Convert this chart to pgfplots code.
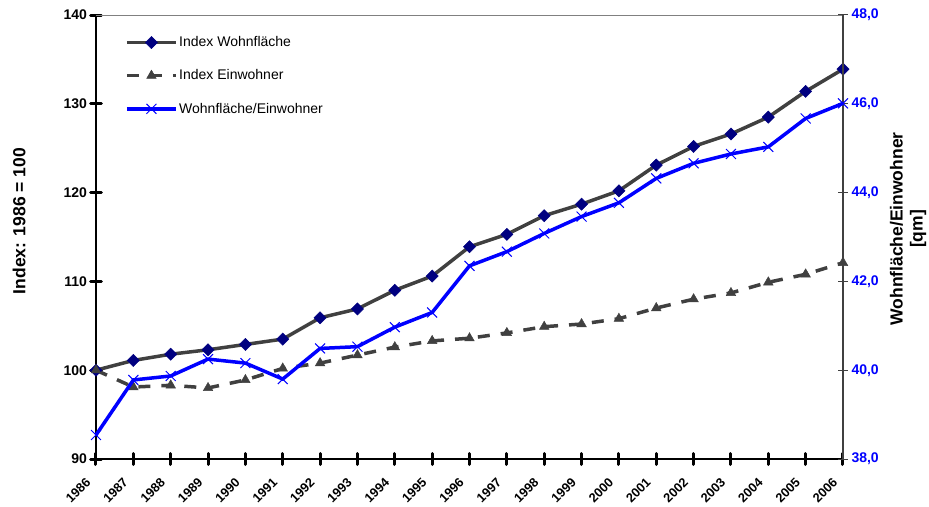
\documentclass[border=0pt]{standalone}
\usepackage{fontspec}
\setmainfont{Liberation Sans}
\usepackage{pgfplots}
\usepackage{pgfplotstable}
\pgfplotsset{compat=1.18}
\definecolor{linegray}{HTML}{404040}
\definecolor{navy}{HTML}{000080}
\definecolor{pureblue}{HTML}{0000FF}
\newcommand\tickfont{\bfseries\fontsize{14}{16}\selectfont}
\newcommand\yearfont{\bfseries\fontsize{12.8}{14}\selectfont}
\newcommand\labfont{\bfseries\fontsize{17.5}{20}\selectfont}
\pgfplotstableread{
year W E R
1986 100.0 100.0 38.54
1987 101.1 98.1 39.78
1988 101.8 98.3 39.87
1989 102.3 98.0 40.25
1990 102.9 98.9 40.16
1991 103.5 100.2 39.80
1992 105.9 100.8 40.49
1993 106.9 101.7 40.53
1994 109.0 102.6 40.97
1995 110.6 103.3 41.30
1996 113.9 103.6 42.35
1997 115.3 104.2 42.67
1998 117.4 104.9 43.08
1999 118.7 105.2 43.46
2000 120.2 105.8 43.77
2001 123.1 107.0 44.32
2002 125.2 108.0 44.66
2003 126.6 108.7 44.87
2004 128.5 109.9 45.03
2005 131.4 110.8 45.67
2006 133.9 112.1 46.01
}\datatable
\begin{document}
\begin{tikzpicture}
\useasboundingbox (-96pt,-47pt) rectangle (833pt,459pt);
\begin{axis}[
  scale only axis, width=747pt, height=444pt,
  xmin=1986, xmax=2006, ymin=90, ymax=140,
  clip=false,
  axis x line*=bottom, axis y line*=left,
  axis line style={-, line width=2.6pt, black},
  xtick={1986,...,2006}, ytick={90,100,...,140},
  tick align=center, major tick length=11pt,
  tick style={black, line width=3pt, line cap=round},
  /pgf/number format/assume math mode=true,
  xticklabel style={font=\yearfont, inner sep=0pt, xshift=-11pt, yshift=-12.5pt, rotate=45, anchor=north east, /pgf/number format/1000 sep={}},
  yticklabel style={font=\tickfont},
  ylabel={Index: 1986 = 100},
  every axis y label/.style={at={(axis description cs:-0.103,0.536)}, rotate=90, anchor=center, font=\labfont},
  legend style={at={(axis description cs:0,1)}, anchor=north west, xshift=29pt, yshift=-20pt,
    draw=none, fill=none, font=\fontsize{14}{16}\selectfont, row sep=18.5pt, inner sep=0pt,
    nodes={inner sep=1.5pt}},
  legend cell align=left,
  legend image code/.code={
    \draw[#1] (0pt,0pt) -- (49pt,0pt);
    \draw[#1] plot coordinates {(24.5pt,0pt)};
  },
]
\addplot[linegray, line width=3.5pt, mark=square*, mark size=4.3pt,
  mark options={rotate=45, fill=navy, draw=navy, line width=0.5pt, solid}]
  table[x=year, y=W] {\datatable};
\addlegendentry{Index Wohnfläche}
\addplot[linegray, line width=3.5pt, dash pattern=on 12pt off 11pt, mark=triangle*, mark size=5.5pt,
  mark options={fill=linegray, draw=linegray, line width=0.5pt, solid}]
  table[x=year, y=E] {\datatable};
\addlegendentry{Index Einwohner}
\addlegendimage{pureblue, line width=3.5pt, mark=x, mark size=7pt, mark options={line width=1pt, solid}}
\addlegendentry{Wohnfläche/Einwohner}
\end{axis}
\begin{axis}[
  scale only axis, width=747pt, height=444pt,
  xmin=1986, xmax=2006, ymin=38, ymax=48,
  clip=false,
  axis x line*=top, axis y line*=right,
  x axis line style={-, color=gray, line width=0.8pt},
  y axis line style={-, color=linegray, line width=1.2pt},
  xtick=\empty,
  ytick={38,40,...,48},
  tick align=center, major tick length=10pt,
  tick style={linegray, line width=1pt},
  /pgf/number format/assume math mode=true,
  yticklabel style={font=\tickfont, text=pureblue, /pgf/number format/.cd, fixed, fixed zerofill, precision=1, use comma},
  ylabel={Wohnfläche/Einwohner\\{[qm]}},
  every axis y label/.style={at={(axis description cs:1.087,0.518)}, rotate=90, anchor=center, align=center, font=\labfont},
]
\addplot[pureblue, line width=3.5pt, mark=x, mark size=7pt, mark options={line width=1pt, solid}]
  table[x=year, y=R] {\datatable};
\end{axis}
\end{tikzpicture}
\end{document}
